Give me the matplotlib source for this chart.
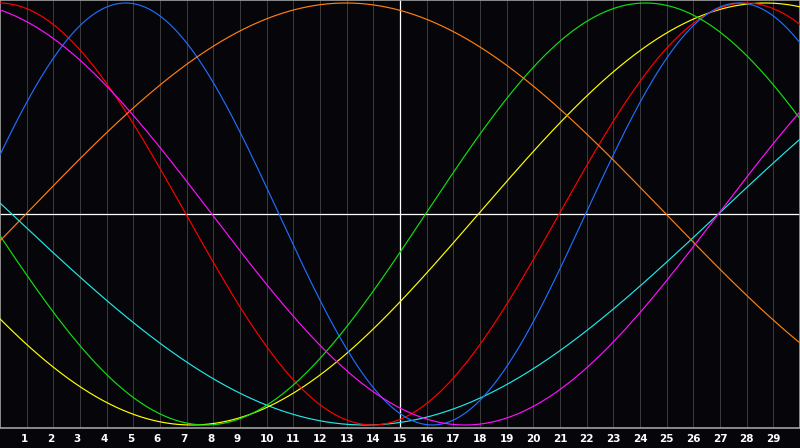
import numpy as np
import matplotlib.pyplot as plt

# biorhythm cycles
names = ['physical', 'emotional', 'intellectual', 'intuitive', 'aesthetic', 'awareness', 'spiritual']
periods = [23, 28, 33, 38, 43, 48, 53]
# day (on the chart's x scale) where each curve crosses zero going up
zero_up = [21.96, 20.97, 15.96, 26.94, 17.94, 0.975, 26.94]
colors = ['#1e6eff', '#ff0000', '#10e010', '#ff10ff', '#ffff00', '#ff8010', '#20e8e8']
draw_order = [6, 4, 1, 0, 2, 5, 3]

days = list(range(1, 30))
today = 15
n_days = 30

bg = '#060509'

fig = plt.figure(figsize=(8, 4.48), dpi=100, facecolor=bg)
ax = fig.add_axes([0, 20 / 448, 1, 428 / 448])
ax.set_facecolor(bg)

ax.set_xlim(0, n_days)
lim = 214 / 211
ax.set_ylim(-lim, lim)

for d in days:
    ax.axvline(d, color='#3a3a3a', lw=0.72, zorder=1)

ax.axhline(0, color='white', lw=0.9, zorder=2)
ax.axvline(today, color='white', lw=0.9, zorder=2)

x = np.linspace(0, n_days, 1200)
for i in draw_order:
    y = np.sin(2 * np.pi * (x - zero_up[i]) / periods[i])
    ax.plot(x, y, color=colors[i], lw=0.85, zorder=3, label=names[i])

for s in ax.spines.values():
    s.set_color('#a0a0a0')
    s.set_linewidth(1.2)

ax.set_xticks([])
ax.set_yticks([])

for d in days:
    xt = d - (0.1 if d < 10 else 0)
    ax.text(xt, -lim - 0.054, str(d), color='white', fontsize=7.5, fontweight='bold',
            family='DejaVu Sans', ha='center', va='center', clip_on=False)

fig.savefig('out.png', dpi=100, facecolor=bg)
